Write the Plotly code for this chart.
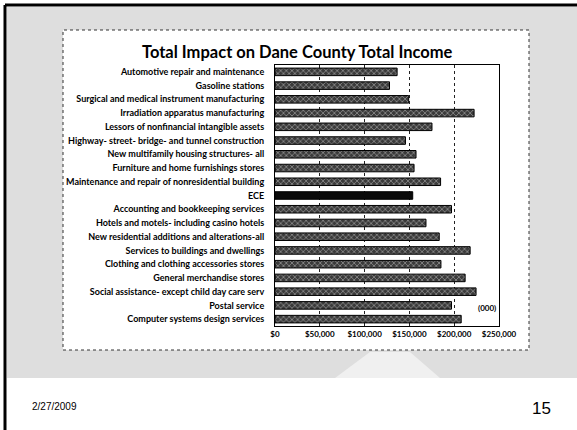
import plotly.graph_objects as go

# Industry categories, top to bottom
categories = [
    "Automotive repair and maintenance",
    "Gasoline stations",
    "Surgical and medical instrument manufacturing",
    "Irradiation apparatus manufacturing",
    "Lessors of nonfinancial intangible assets",
    "Highway- street- bridge- and tunnel construction",
    "New multifamily housing structures- all",
    "Furniture and home furnishings stores",
    "Maintenance and repair of nonresidential building",
    "ECE",
    "Accounting and bookkeeping services",
    "Hotels and motels- including casino hotels",
    "New residential additions and alterations-all",
    "Services to buildings and dwellings",
    "Clothing and clothing accessories stores",
    "General merchandise stores",
    "Social assistance- except child day care serv",
    "Postal service",
    "Computer systems design services",
]

# Total income impact, thousands of dollars
total_income = [
    136300, 127800, 149200, 222200, 175200, 145600, 157400, 155200, 184800,
    153700, 197000, 168500, 183300, 217800, 185200, 212200, 224400, 197000,
    207800,
]

tick_values = [0, 50000, 100000, 150000, 200000, 250000]
tick_labels = ["$0", "$50,000", "$100,000", "$150,000", "$200,000", "$250,000"]

W, H = 577, 430
ML, MR, MT, MB = 275, 78, 65, 104
PW, PH = W - ML - MR, H - MT - MB


def px(x):
    return (x - ML) / PW


def py(y):
    return (H - MB - y) / PH


highlight = "ECE"
others = [(c, v) for c, v in zip(categories, total_income) if c != highlight]
focus = [(c, v) for c, v in zip(categories, total_income) if c == highlight]

fig = go.Figure()
fig.add_trace(go.Bar(
    x=[v for _, v in others],
    y=[c for c, _ in others],
    orientation="h",
    marker=dict(
        color="#4a4a4a",
        line=dict(color="#000000", width=1),
        pattern=dict(shape="x", fgcolor="#b8b8b8", bgcolor="#3a3a3a",
                     size=4, solidity=0.25, fillmode="replace"),
    ),
    hoverinfo="x+y",
))
fig.add_trace(go.Bar(
    x=[v for _, v in focus],
    y=[c for c, _ in focus],
    orientation="h",
    marker=dict(color="#0a0a0a", line=dict(color="#000000", width=1)),
    hoverinfo="x+y",
))

shapes = [
    # slide background band
    dict(type="rect", xref="paper", yref="paper", layer="below",
         x0=px(7), x1=px(577), y0=py(378), y1=py(7),
         fillcolor="#dedede", line=dict(width=0)),
    # lighter landscape patch
    dict(type="path", xref="paper", yref="paper", layer="below",
         path=f"M {px(335)} {py(378)} L {px(370)} {py(352)} L {px(410)} {py(352)} "
              f"L {px(440)} {py(378)} Z",
         fillcolor="#f0f0f0", line=dict(width=0)),
    # chart panel
    dict(type="rect", xref="paper", yref="paper", layer="below",
         x0=px(63), x1=px(529), y0=py(350), y1=py(30),
         fillcolor="#ffffff", line=dict(color="#333333", width=1, dash="dot")),
    # slide frame edges
    dict(type="line", xref="paper", yref="paper",
         x0=px(5), x1=px(577), y0=py(5), y1=py(5),
         line=dict(color="#000000", width=3)),
    dict(type="line", xref="paper", yref="paper",
         x0=px(5), x1=px(5), y0=py(5), y1=py(430),
         line=dict(color="#000000", width=3)),
]

annotations = [
    dict(text="<b>Total Impact on Dane County Total Income</b>",
         xref="paper", yref="paper", x=px(297), y=py(52),
         xanchor="center", yanchor="middle",
         showarrow=False, font=dict(family="Lato", size=16.5, color="#000000")),
    dict(text="<b>(000)</b>", xref="paper", yref="paper",
         x=px(498), y=py(308), xanchor="right", yanchor="middle",
         showarrow=False,
         font=dict(family="Lato", size=8, color="#000000")),
    dict(text="2/27/2009", xref="paper", yref="paper",
         x=px(30), y=py(406), xanchor="left", yanchor="middle",
         showarrow=False,
         font=dict(family="Liberation Sans", size=10, color="#000000")),
    dict(text="15", xref="paper", yref="paper",
         x=px(553), y=py(408), xanchor="right", yanchor="middle",
         showarrow=False,
         font=dict(family="Liberation Sans", size=17, color="#000000")),
]

fig.update_layout(
    width=W, height=H,
    margin=dict(l=ML, r=MR, t=MT, b=MB, pad=0),
    paper_bgcolor="#ffffff",
    plot_bgcolor="#ffffff",
    showlegend=False,
    barmode="overlay",
    bargap=0.45,
    shapes=shapes,
    annotations=annotations,
    font=dict(family="Lato", color="#000000"),
)

fig.update_xaxes(
    range=[0, 250000],
    tickvals=tick_values,
    ticktext=["<b>%s</b>" % t for t in tick_labels],
    tickfont=dict(family="Lato", size=8, color="#000000"),
    showgrid=True, gridcolor="#222222", gridwidth=1, griddash="dot",
    showline=True, linecolor="#000000", linewidth=1, mirror=True,
    zeroline=False, ticks="", ticklen=0,
    fixedrange=True,
)
fig.update_yaxes(
    categoryorder="array", categoryarray=categories[::-1],
    tickmode="array", tickvals=categories,
    ticktext=["<b>%s</b>" % c for c in categories],
    tickfont=dict(family="Lato", size=9, color="#000000"),
    showline=True, linecolor="#000000", linewidth=1, mirror=True,
    ticks="outside", ticklen=8, tickcolor="rgba(0,0,0,0)",
    showgrid=False, fixedrange=True,
)

fig.write_html("out.html")
